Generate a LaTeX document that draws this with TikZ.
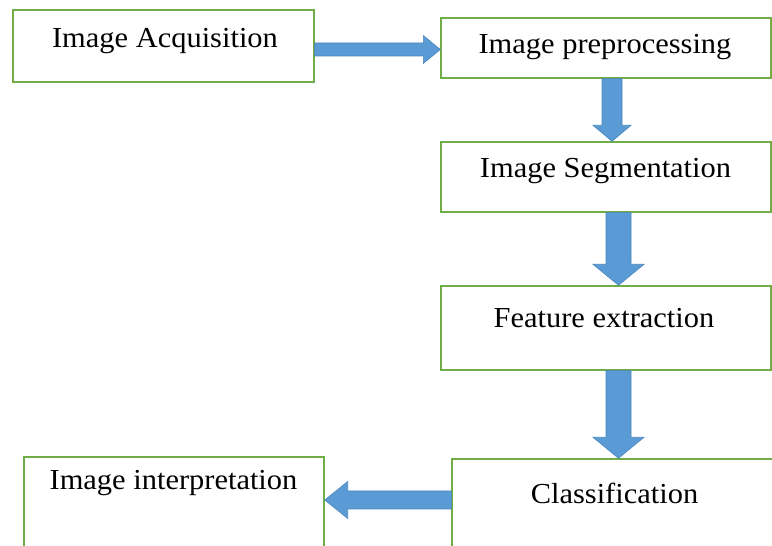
\documentclass[tikz,border=0pt]{standalone}
\usepackage{fontspec}
\setmainfont{Liberation Serif}
\usetikzlibrary{calc}
\definecolor{boxgreen}{HTML}{70AD47}
\definecolor{arrblue}{HTML}{5B9BD5}
\definecolor{arredge}{HTML}{4A86BE}
\begin{document}
\begin{tikzpicture}[x=1pt,y=1pt,
  stepbox/.style={draw=boxgreen, line width=1.4pt, fill=white, inner sep=0pt},
  lbl/.style={anchor=base, inner sep=0pt, font=\fontsize{29}{34}\selectfont},
  blockarrow/.style={fill=arrblue, draw=arredge, line width=0.6pt, line join=miter}]
\useasboundingbox (0,0) rectangle (772,546);
\clip (0,0) rectangle (772,546);
% boxes
\node[stepbox, minimum width=301pt, minimum height=72pt] (acq) at (163.5,500) {};
\node[stepbox, minimum width=330pt, minimum height=60pt] (pre) at (606,498) {};
\node[stepbox, minimum width=330pt, minimum height=70pt] (seg) at (606,369) {};
\node[stepbox, minimum width=330pt, minimum height=84pt] (feat) at (606,218) {};
\node[stepbox, minimum width=330pt, minimum height=97pt] (cls) at (617,38.5) {};
\node[stepbox, minimum width=300pt, minimum height=99pt] (interp) at (174,39.5) {};
% labels
\node[lbl] (tacq) at (165,498) {\scalebox{1.05}[1]{Image Acquisition}};
\node[lbl] (tpre) at (605,492) {\scalebox{1.05}[1]{Image preprocessing}};
\node[lbl] (tseg) at (605.5,368) {\scalebox{1.05}[1]{Image Segmentation}};
\node[lbl] (tfeat) at (604,218) {\scalebox{1.05}[1]{Feature extraction}};
\node[lbl] (tcls) at (614.5,42) {\scalebox{1.05}[1]{Classification}};
\node[lbl] (tinterp) at (173.5,56) {\scalebox{1.05}[1]{Image interpretation}};
% arrows
\draw[blockarrow] let \p1=(acq.east), \p2=(pre.west) in
  (\x1,490pt) -- (\x2-17pt,490pt) -- (\x2-17pt,482.5pt) -- (\x2,496.5pt)
  -- (\x2-17pt,510.5pt) -- (\x2-17pt,503pt) -- (\x1,503pt) -- cycle;
\draw[blockarrow] let \p1=(pre.south), \p2=(seg.north) in
  (602pt,\y1) -- (602pt,\y2+16pt) -- (593pt,\y2+16pt) -- (612pt,\y2)
  -- (631pt,\y2+16pt) -- (622pt,\y2+16pt) -- (622pt,\y1) -- cycle;
\draw[blockarrow] let \p1=(seg.south), \p2=(feat.north) in
  (606pt,\y1) -- (606pt,\y2+21pt) -- (593pt,\y2+21pt) -- (618.5pt,\y2)
  -- (644pt,\y2+21pt) -- (631pt,\y2+21pt) -- (631pt,\y1) -- cycle;
\draw[blockarrow] let \p1=(feat.south), \p2=(cls.north) in
  (606pt,\y1) -- (606pt,\y2+21pt) -- (593pt,\y2+21pt) -- (618.5pt,\y2)
  -- (644pt,\y2+21pt) -- (631pt,\y2+21pt) -- (631pt,\y1) -- cycle;
\draw[blockarrow] let \p1=(cls.west), \p2=(interp.east) in
  (\x1,37pt) -- (\x2+23pt,37pt) -- (\x2+23pt,27.5pt) -- (\x2,46pt)
  -- (\x2+23pt,64.5pt) -- (\x2+23pt,55pt) -- (\x1,55pt) -- cycle;
\end{tikzpicture}
\end{document}
